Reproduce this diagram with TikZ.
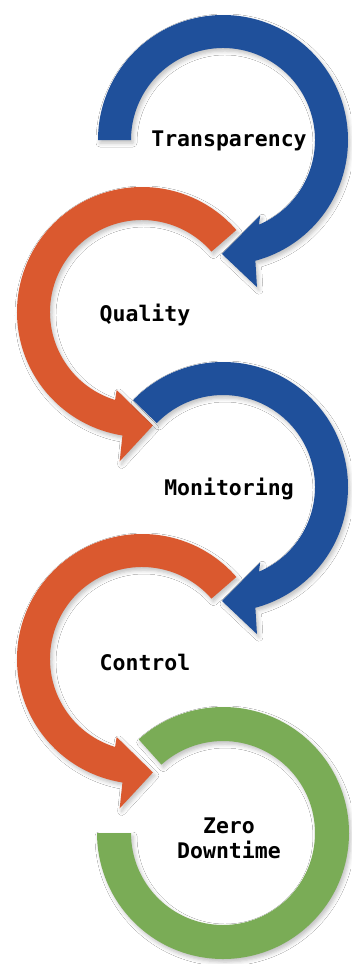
\documentclass[tikz,border=0pt]{standalone}
\usepackage{fontspec}
\newfontfamily\labelfont{DejaVu Sans Mono}
\usetikzlibrary{shadows.blur}
\definecolor{bluec}{RGB}{31,80,155}
\definecolor{orangec}{RGB}{218,89,47}
\definecolor{greenc}{RGB}{122,172,86}
\begin{document}
\begin{tikzpicture}[x=1pt,y=1pt]
\tikzset{
  ring/.style={blur shadow={shadow xshift=2pt,shadow yshift=-3pt,shadow blur radius=4pt,shadow opacity=25}},
  lbl/.style={font=\labelfont\bfseries\fontsize{21.5}{25}\selectfont, align=center, inner sep=0pt}
}
\useasboundingbox[fill=white] (0,0) rectangle (351,-964);
% Blue arrow 1
\begin{scope}[shift={(223,-140)}]
\fill[bluec,ring] (180:125) arc[start angle=180,end angle=-75,radius=125] -- (-77:151) -- (-90.5:114) -- (-63.7:84) -- (-67:92) arc[start angle=-67,end angle=180,radius=92] -- cycle;
\end{scope}
% Orange arrow 1
\begin{scope}[shift={(142,-312)}]
\fill[orangec,ring] (41:125) arc[start angle=41,end angle=261,radius=125] -- (261.5:151) -- (275.5:114) -- (252:82) -- (253:92) arc[start angle=253,end angle=41,radius=92] -- cycle;
\end{scope}
% Blue arrow 2
\begin{scope}[shift={(223,-487)}]
\fill[bluec,ring] (136:125) arc[start angle=136,end angle=-75,radius=125] -- (-77:151) -- (-90.5:114) -- (-63.7:84) -- (-67:92) arc[start angle=-67,end angle=136,radius=92] -- cycle;
\end{scope}
% Orange arrow 2
\begin{scope}[shift={(142,-659)}]
\fill[orangec,ring] (41:125) arc[start angle=41,end angle=261,radius=125] -- (261.5:151) -- (275.5:114) -- (252:82) -- (253:92) arc[start angle=253,end angle=41,radius=92] -- cycle;
\end{scope}
% Green ring
\begin{scope}[shift={(223,-833)}]
\fill[greenc,ring] (132:126) arc[start angle=132,end angle=-180,radius=126] -- (180:92) arc[start angle=-180,end angle=132,radius=92] -- cycle;
\end{scope}
% Labels
\node[lbl] (transparency) at (229,-141) {Transparency};
\node[lbl] (quality) at (145,-315) {Quality};
\node[lbl] (monitoring) at (229,-489) {Monitoring};
\node[lbl] (control) at (145,-662) {Control};
\node[lbl] (zero) at (229,-838) {Zero\\Downtime};
\end{tikzpicture}
\end{document}
